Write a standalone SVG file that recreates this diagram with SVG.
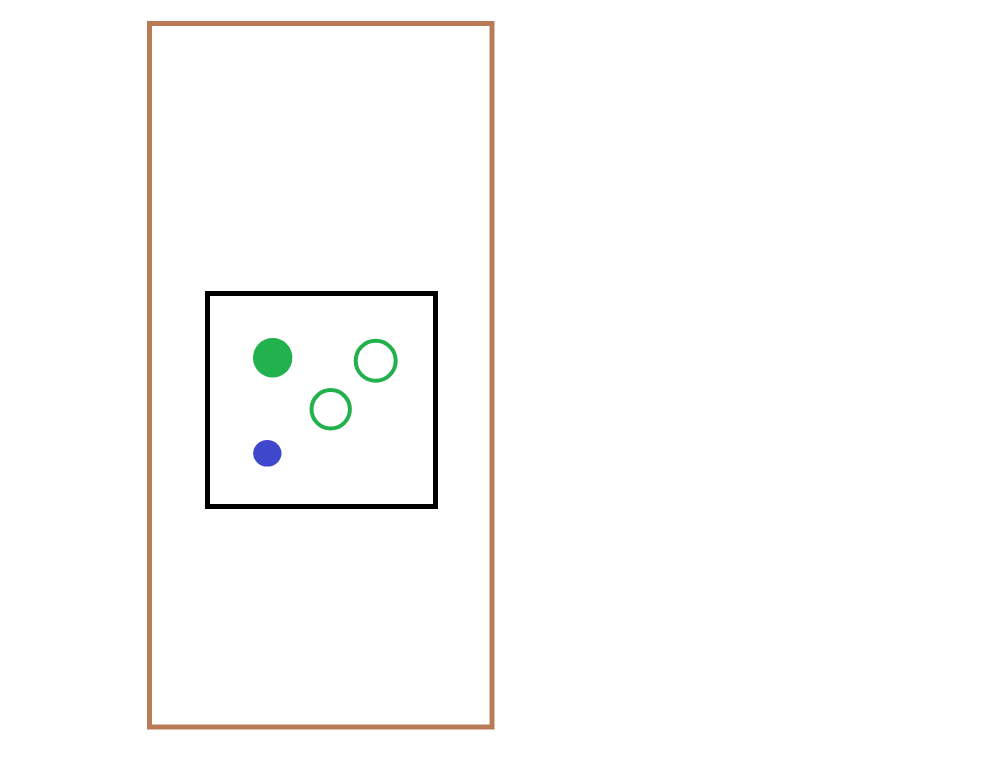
<svg xmlns="http://www.w3.org/2000/svg" width="986" height="768" viewBox="0 0 986 768">
<style>
.frame{fill:none;stroke:#b97a57;stroke-width:5}
.box{fill:none;stroke:#000;stroke-width:5}
.ring{fill:none;stroke:#22b14c;stroke-width:4}
</style>
<rect width="986" height="768" fill="#fff"/>
<g id="outer"><rect class="frame" x="149.5" y="23.5" width="342.5" height="703.5"/></g>
<g id="inner"><rect class="box" x="207.5" y="293.5" width="228" height="213"/></g>
<g id="dot-green"><circle cx="272.7" cy="357.7" r="19.7" fill="#22b14c"/></g>
<g id="ring-1"><circle class="ring" cx="375.7" cy="360.7" r="20"/></g>
<g id="ring-2"><circle class="ring" cx="330.7" cy="409.3" r="19.2"/></g>
<g id="dot-blue"><ellipse cx="267.3" cy="453.3" rx="14.2" ry="13.3" fill="#3f48cc"/></g>
<g id="connectors"/>
</svg>
